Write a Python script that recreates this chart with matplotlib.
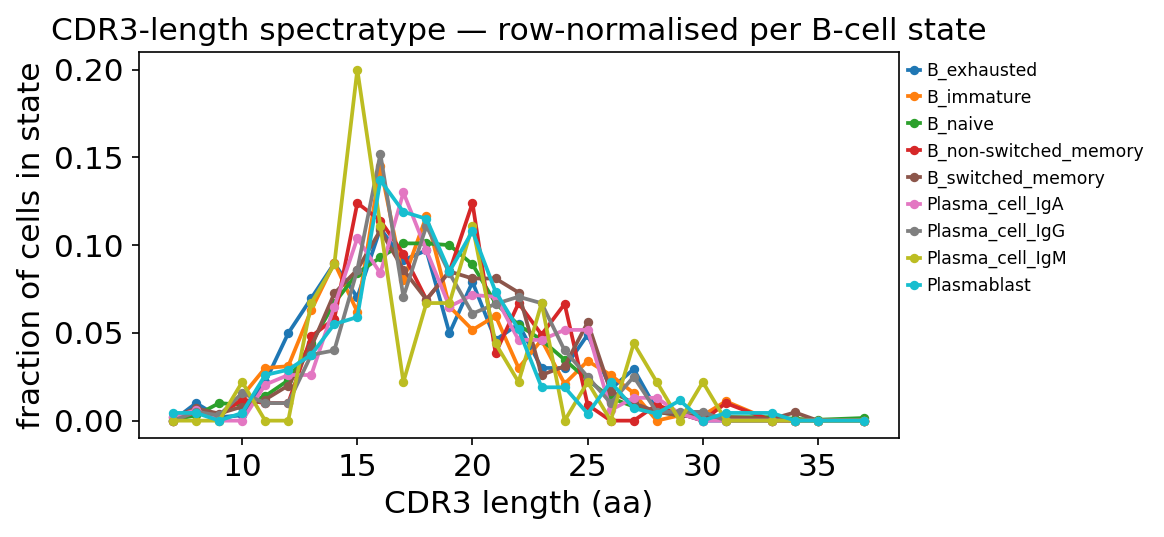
import matplotlib
matplotlib.use("Agg")
import matplotlib.pyplot as plt

lengths = [7, 8, 9, 10, 11, 12, 13, 14, 15, 16, 17, 18, 19, 20, 21, 22, 23, 24, 25,
           26, 27, 28, 29, 30, 31, 33, 34, 35, 37]

states = ["B_exhausted", "B_immature", "B_naive", "B_non-switched_memory",
          "B_switched_memory", "Plasma_cell_IgA", "Plasma_cell_IgG",
          "Plasma_cell_IgM", "Plasmablast"]

colors = ["#1f77b4", "#ff7f0e", "#2ca02c", "#d62728", "#8c564b",
          "#e377c2", "#7f7f7f", "#bcbd22", "#17becf"]

B_exhausted = [0.0, 0.010, 0.002, 0.003, 0.022, 0.0498, 0.0697, 0.0896, 0.0703, 0.1095,
               0.0915, 0.097, 0.0498, 0.079, 0.046, 0.055, 0.030, 0.030, 0.049, 0.018,
               0.0294, 0.006, 0.004, 0.0, 0.0, 0.0, 0.0, 0.0, 0.0]
B_immature = [0.0, 0.004, 0.002, 0.014, 0.030, 0.031, 0.063, 0.090, 0.062, 0.145,
              0.080, 0.1165, 0.065, 0.0517, 0.0597, 0.030, 0.046, 0.021, 0.034, 0.026,
              0.0157, 0.0, 0.003, 0.003, 0.011, 0.0, 0.0, 0.0, 0.0]
B_naive = [0.0006, 0.003, 0.010, 0.009, 0.014, 0.023, 0.044, 0.067, 0.084, 0.093,
           0.101, 0.101, 0.100, 0.089, 0.0669, 0.0545, 0.046, 0.0347, 0.0233, 0.013,
           0.008, 0.005, 0.003, 0.002, 0.002, 0.002, 0.001, 0.0005, 0.0015]
B_non_switched_memory = [0.0, 0.005, 0.003, 0.012, 0.010, 0.010, 0.048, 0.058, 0.124, 0.114,
                         0.095, 0.069, 0.085, 0.124, 0.0384, 0.0669, 0.049, 0.0665, 0.009, 0.0,
                         0.0, 0.009, 0.004, 0.0, 0.010, 0.0, 0.0, 0.0, 0.0]
B_switched_memory = [0.002, 0.007, 0.004, 0.008, 0.012, 0.020, 0.042, 0.0725, 0.086, 0.1085,
                     0.086, 0.069, 0.085, 0.081, 0.081, 0.073, 0.026, 0.031, 0.056, 0.0167,
                     0.010, 0.005, 0.003, 0.003, 0.002, 0.001, 0.0047, 0.0, 0.0]
Plasma_cell_IgA = [0.002, 0.006, 0.0, 0.0, 0.0205, 0.026, 0.026, 0.065, 0.104, 0.084,
                   0.130, 0.097, 0.065, 0.0716, 0.0706, 0.046, 0.046, 0.0517, 0.0517, 0.006,
                   0.013, 0.013, 0.004, 0.0, 0.0, 0.0, 0.0, 0.0, 0.0]
Plasma_cell_IgG = [0.0, 0.005, 0.003, 0.0157, 0.010, 0.010, 0.0375, 0.040, 0.086, 0.152,
                   0.0706, 0.111, 0.084, 0.061, 0.0665, 0.0706, 0.0669, 0.040, 0.025, 0.010,
                   0.025, 0.005, 0.005, 0.005, 0.0, 0.0, 0.0, 0.0, 0.0]
Plasma_cell_IgM = [0.0, 0.0, 0.0, 0.022, 0.0, 0.0, 0.067, 0.089, 0.200, 0.111,
                   0.022, 0.067, 0.067, 0.111, 0.044, 0.022, 0.067, 0.0, 0.022, 0.0,
                   0.044, 0.022, 0.0, 0.022, 0.0, 0.0, 0.0, 0.0, 0.0]
Plasmablast = [0.0044, 0.0044, 0.0, 0.0044, 0.026, 0.029, 0.0375, 0.055, 0.059, 0.137,
               0.119, 0.115, 0.085, 0.108, 0.0735, 0.052, 0.019, 0.019, 0.004, 0.022,
               0.007, 0.004, 0.0115, 0.0, 0.0044, 0.0044, 0.0, 0.0, 0.0]

series = [B_exhausted, B_immature, B_naive, B_non_switched_memory, B_switched_memory,
          Plasma_cell_IgA, Plasma_cell_IgG, Plasma_cell_IgM, Plasmablast]

plt.rcParams['font.family'] = ['DejaVu Sans']
fig = plt.figure(figsize=(1164 / 150, 537 / 150), dpi=150)
ax = fig.add_axes([0.119, 0.184, 0.653, 0.719])

for name, vals, c in zip(states, series, colors):
    ax.plot(lengths, vals, marker='o', markersize=3.5, linewidth=1.8, label=name, color=c)

ax.set_xlabel("CDR3 length (aa)", fontsize=15)
ax.set_ylabel("fraction of cells in state", fontsize=15)
ax.set_title("CDR3-length spectratype \u2014 row-normalised per B-cell state", fontsize=15)
ax.tick_params(labelsize=15)
ax.set_yticks([0.0, 0.05, 0.10, 0.15, 0.20])
ax.set_xticks([10, 15, 20, 25, 30, 35])

ax.legend(loc='upper left', bbox_to_anchor=(1.0, 1.0), frameon=False, fontsize=8.3,
          handlelength=0.7, handletextpad=0.35, borderaxespad=0.15, labelspacing=0.5)

fig.savefig("out.png", dpi=150)
